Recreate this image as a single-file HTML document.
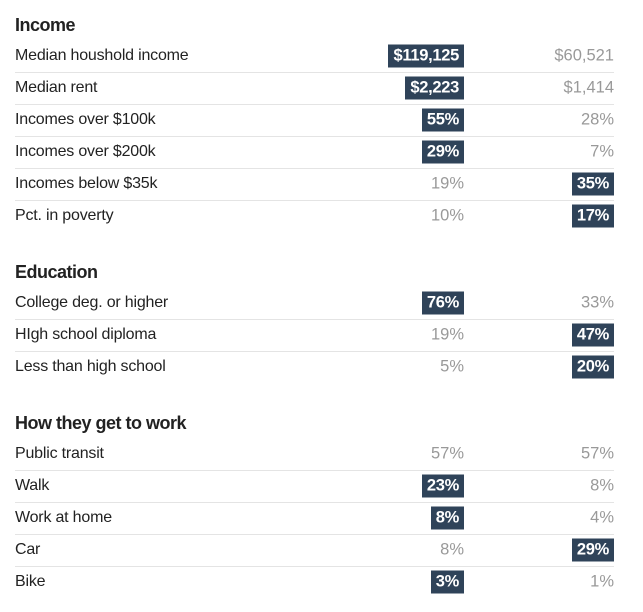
<!DOCTYPE html>
<html><head><meta charset="utf-8"><style>
body{margin:0;width:643px;height:612px;background:#fff;font-family:"Liberation Sans",sans-serif;position:relative;overflow:hidden}
.h{position:absolute;left:15px;font-weight:bold;font-size:18px;color:#222;letter-spacing:-0.5px}
.row{position:absolute;left:15px;width:599px;height:32px}
.row.sep{border-bottom:1px solid #e4e4e4}
.lab{position:absolute;left:0;top:50%;transform:translateY(-50%);font-size:16px;color:#222;letter-spacing:-0.2px}
.v{position:absolute;top:50%;transform:translateY(-50%);font-size:16.5px;color:#999;text-align:right;line-height:23px}
.v.b{background:#2f4359;color:#fff;font-weight:bold;padding:0 5px;letter-spacing:-0.3px}
.c1{right:150px}.c2{right:0}
</style></head><body>
<div id="t"></div>
<script>
const sections=[
 {t:"Income",y:15,rows:[["Median houshold income","$119,125","$60,521",1],["Median rent","$2,223","$1,414",1],["Incomes over $100k","55%","28%",1],["Incomes over $200k","29%","7%",1],["Incomes below $35k","19%","35%",2],["Pct. in poverty","10%","17%",2]]},
 {t:"Education",y:262,rows:[["College deg. or higher","76%","33%",1],["HIgh school diploma","19%","47%",2],["Less than high school","5%","20%",2]]},
 {t:"How they get to work",y:413,rows:[["Public transit","57%","57%",0],["Walk","23%","8%",1],["Work at home","8%","4%",1],["Car","8%","29%",2],["Bike","3%","1%",1]]}
];
const root=document.getElementById('t');
sections.forEach(s=>{
 const h=document.createElement('div');h.className='h';h.style.top=s.y+'px';h.textContent=s.t;
 
 
 root.appendChild(h);
 s.rows.forEach((r,i)=>{
  const d=document.createElement('div');d.className='row'+(i<s.rows.length-1?' sep':'');
  d.style.top=(s.y+25+i*32)+'px';
  
  
  d.innerHTML='<span class="lab">'+r[0]+'</span>'+
   '<span class="v c1'+(r[3]==1?' b':'')+'">'+r[1]+'</span>'+
   '<span class="v c2'+(r[3]==2?' b':'')+'">'+r[2]+'</span>';
  root.appendChild(d);
 });
});
</script>
</body></html>
